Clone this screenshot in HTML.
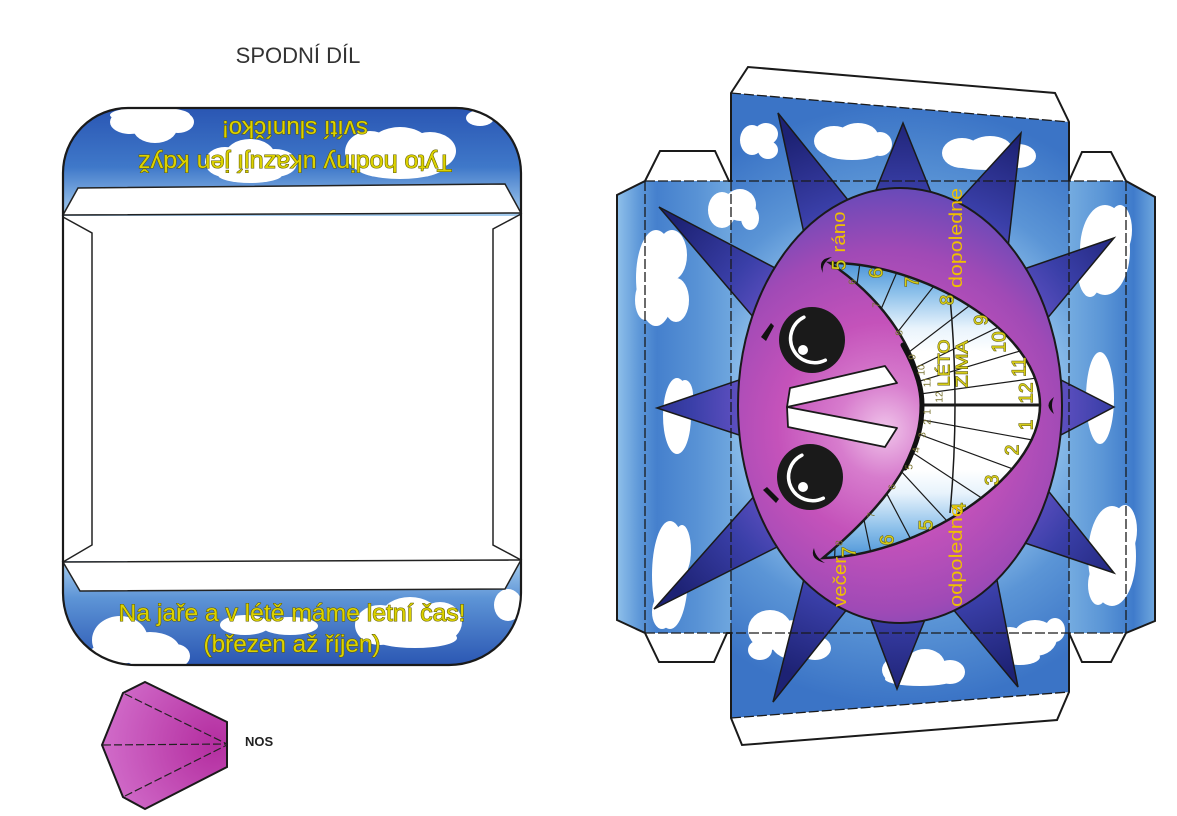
<!DOCTYPE html>
<html><head><meta charset="utf-8">
<style>
html,body{margin:0;padding:0;background:#fff;}
svg{display:block}
.y{fill:#dcd200;stroke:#5e5a00;stroke-width:1.1;paint-order:stroke;}
.on text,.inn text,.lbl text,.lz text{text-anchor:middle;dominant-baseline:central;}
.on text{fill:#d6cc18;stroke:#5a5610;stroke-width:1;paint-order:stroke;font-size:19px;}
.inn text{fill:#7a7430;font-size:10px;}
.lbl text{fill:#efc000;font-size:18px;}
.lz text{fill:#d6cc18;stroke:#5a5610;stroke-width:1;paint-order:stroke;font-size:17px;}
</style></head>
<body>
<svg width="1177" height="816" viewBox="0 0 1177 816" xmlns="http://www.w3.org/2000/svg" font-family="'Liberation Sans', Arial, sans-serif">
<defs>
  <clipPath id="lpc"><path d="M63,173 A65,65 0 0 1 128,108 L456,108 A65,65 0 0 1 521,173 L521,593 A72,72 0 0 1 449,665 L135,665 A72,72 0 0 1 63,593 Z"/></clipPath>
  <clipPath id="rpc">
    <polygon points="617,195 645,181 731,181 731,633 645,633 617,620"/>
    <polygon points="731,93 1069,122 1069,692 731,718"/>
    <polygon points="1069,181 1126,181 1155,197 1155,621 1126,633 1069,633"/>
  </clipPath>
  <clipPath id="mc"><path d="M830,263 C920,262 1040,330 1040,405 C1040,480 915,556 823,558 C880,510 922,460 922,405 C922,355 885,300 830,263 Z"/></clipPath>
  <linearGradient id="tb" gradientUnits="userSpaceOnUse" x1="0" y1="108" x2="0" y2="215">
    <stop offset="0" stop-color="#2a56b3"/><stop offset="0.55" stop-color="#3f78c9"/><stop offset="1" stop-color="#a3cbee"/>
  </linearGradient>
  <linearGradient id="bb" gradientUnits="userSpaceOnUse" x1="0" y1="562" x2="0" y2="665">
    <stop offset="0" stop-color="#a3cbee"/><stop offset="0.35" stop-color="#5d94d6"/><stop offset="1" stop-color="#2b57b3"/>
  </linearGradient>
  <radialGradient id="sc" gradientUnits="userSpaceOnUse" cx="900" cy="405" r="300">
    <stop offset="0.5" stop-color="#94c4ed"/><stop offset="0.72" stop-color="#5b95d6"/><stop offset="1" stop-color="#3b74c6"/>
  </radialGradient>
  <linearGradient id="sl" gradientUnits="userSpaceOnUse" x1="617" y1="0" x2="731" y2="0">
    <stop offset="0" stop-color="#8fc0ea"/><stop offset="0.2" stop-color="#5d97d8"/><stop offset="0.35" stop-color="#4580cd"/><stop offset="0.7" stop-color="#5892d5"/><stop offset="1" stop-color="#6ea6de"/>
  </linearGradient>
  <linearGradient id="sr" gradientUnits="userSpaceOnUse" x1="1069" y1="0" x2="1155" y2="0">
    <stop offset="0" stop-color="#74abe0"/><stop offset="0.4" stop-color="#5a95d6"/><stop offset="0.75" stop-color="#3f7bcb"/><stop offset="1" stop-color="#6fa7de"/>
  </linearGradient>
  <radialGradient id="sp" gradientUnits="userSpaceOnUse" cx="900" cy="405" r="290">
    <stop offset="0.5" stop-color="#6a55c8"/><stop offset="0.72" stop-color="#3a3fa8"/><stop offset="1" stop-color="#1d2274"/>
  </radialGradient>
  <radialGradient id="fc" gradientUnits="userSpaceOnUse" cx="885" cy="430" r="240">
    <stop offset="0" stop-color="#f0c4ea"/><stop offset="0.2" stop-color="#d77ccd"/><stop offset="0.45" stop-color="#c452ba"/><stop offset="0.75" stop-color="#a04ab6"/><stop offset="1" stop-color="#6a4ab8"/>
  </radialGradient>
  <linearGradient id="mg" gradientUnits="userSpaceOnUse" x1="0" y1="263" x2="0" y2="558">
    <stop offset="0" stop-color="#4c94d8"/><stop offset="0.1" stop-color="#8cc0ea"/><stop offset="0.22" stop-color="#e8f3fc"/><stop offset="0.3" stop-color="#ffffff"/><stop offset="0.7" stop-color="#ffffff"/><stop offset="0.78" stop-color="#e8f3fc"/><stop offset="0.9" stop-color="#8cc0ea"/><stop offset="1" stop-color="#4c94d8"/>
  </linearGradient>
  <radialGradient id="ng" gradientUnits="userSpaceOnUse" cx="215" cy="745" r="110">
    <stop offset="0" stop-color="#b42ea0"/><stop offset="1" stop-color="#d06ac8"/>
  </radialGradient>
</defs>

<!-- ===== LEFT PIECE ===== -->
<text x="298" y="63" text-anchor="middle" font-size="22" fill="#333">SPODNÍ DÍL</text>

<path d="M63,173 A65,65 0 0 1 128,108 L456,108 A65,65 0 0 1 521,173 L521,593 A72,72 0 0 1 449,665 L135,665 A72,72 0 0 1 63,593 Z" fill="#fff"/>
<g clip-path="url(#lpc)">
  <rect x="60" y="105" width="465" height="111" fill="url(#tb)"/>
  <rect x="60" y="561" width="465" height="108" fill="url(#bb)"/>
  <g fill="#fff">
    <ellipse cx="130" cy="122" rx="20" ry="12"/><ellipse cx="155" cy="128" rx="22" ry="15"/><ellipse cx="178" cy="122" rx="16" ry="11"/><ellipse cx="150" cy="115" rx="40" ry="8"/>
    <ellipse cx="225" cy="162" rx="20" ry="15"/><ellipse cx="250" cy="156" rx="25" ry="17"/><ellipse cx="275" cy="163" rx="22" ry="14"/><ellipse cx="250" cy="175" rx="32" ry="8"/>
    <ellipse cx="370" cy="152" rx="25" ry="21"/><ellipse cx="400" cy="146" rx="30" ry="19"/><ellipse cx="430" cy="151" rx="26" ry="19"/><ellipse cx="400" cy="166" rx="45" ry="13"/>
    <ellipse cx="480" cy="118" rx="14" ry="8"/>
    <ellipse cx="120" cy="640" rx="28" ry="24"/><ellipse cx="150" cy="650" rx="30" ry="18"/><ellipse cx="175" cy="656" rx="15" ry="12"/><ellipse cx="108" cy="656" rx="20" ry="12"/>
    <ellipse cx="245" cy="625" rx="25" ry="10"/><ellipse cx="290" cy="626" rx="28" ry="9"/>
    <ellipse cx="380" cy="625" rx="25" ry="20"/><ellipse cx="410" cy="615" rx="28" ry="18"/><ellipse cx="440" cy="622" rx="22" ry="20"/><ellipse cx="415" cy="638" rx="42" ry="10"/>
    <ellipse cx="508" cy="605" rx="14" ry="16"/>
  </g>
</g>
<polygon points="63,215 78,188 505,184 521,213" fill="#fff" stroke="#222" stroke-width="1.5"/>
<polygon points="63,562 521,560 505,589 80,591" fill="#fff" stroke="#222" stroke-width="1.5"/>
<polyline points="63,217 92,233 92,545 63,562" fill="none" stroke="#222" stroke-width="1.5"/>
<polyline points="521,214 493,229 493,545 521,560" fill="none" stroke="#222" stroke-width="1.5"/>
<path d="M63,173 A65,65 0 0 1 128,108 L456,108 A65,65 0 0 1 521,173 L521,593 A72,72 0 0 1 449,665 L135,665 A72,72 0 0 1 63,593 Z" fill="none" stroke="#1a1a1a" stroke-width="2.2"/>

<g font-size="24" text-anchor="middle" class="y">
  <text x="295" y="155" transform="rotate(180 295 155)" textLength="314" lengthAdjust="spacingAndGlyphs">Tyto hodiny ukazují jen když</text>
  <text x="295" y="121" transform="rotate(180 295 121)" textLength="146" lengthAdjust="spacingAndGlyphs">svítí sluníčko!</text>
  <text x="292" y="621" textLength="347" lengthAdjust="spacingAndGlyphs">Na jaře a v létě máme letní čas!</text>
  <text x="292" y="652" textLength="177" lengthAdjust="spacingAndGlyphs">(březen až říjen)</text>
</g>

<!-- NOS -->
<polygon points="145,682 227,722 227,767 145,809 123,797 102,745 123,693" fill="url(#ng)" stroke="#1a1a1a" stroke-width="2"/>
<g stroke="#222" stroke-width="1.2" stroke-dasharray="8 3" fill="none">
  <line x1="125" y1="694" x2="227" y2="744"/>
  <line x1="103" y1="745" x2="227" y2="744"/>
  <line x1="125" y1="796" x2="227" y2="745"/>
</g>
<text x="245" y="746" font-size="13" font-weight="bold" fill="#222">NOS</text>

<!-- ===== RIGHT PIECE ===== -->
<polygon points="617,195 645,181 731,181 731,633 645,633 617,620" fill="url(#sl)"/>
<polygon points="731,93 1069,122 1069,692 731,718" fill="url(#sc)"/>
<polygon points="1069,181 1126,181 1155,197 1155,621 1126,633 1069,633" fill="url(#sr)"/>

<g clip-path="url(#rpc)" fill="#fff">
  <ellipse cx="752" cy="140" rx="12" ry="15"/><ellipse cx="766" cy="134" rx="12" ry="11"/><ellipse cx="768" cy="150" rx="10" ry="9"/>
  <ellipse cx="834" cy="141" rx="20" ry="15"/><ellipse cx="858" cy="136" rx="20" ry="13"/><ellipse cx="880" cy="144" rx="12" ry="12"/><ellipse cx="852" cy="152" rx="28" ry="8"/>
  <ellipse cx="962" cy="153" rx="20" ry="15"/><ellipse cx="990" cy="149" rx="22" ry="13"/><ellipse cx="1018" cy="156" rx="18" ry="12"/><ellipse cx="988" cy="163" rx="36" ry="7"/>
  <ellipse cx="722" cy="210" rx="14" ry="18"/><ellipse cx="740" cy="205" rx="16" ry="16"/><ellipse cx="750" cy="218" rx="9" ry="12"/>
  <ellipse cx="656" cy="278" rx="20" ry="48"/><ellipse cx="672" cy="255" rx="15" ry="25"/><ellipse cx="676" cy="300" rx="13" ry="22"/><ellipse cx="645" cy="300" rx="10" ry="20"/>
  <ellipse cx="677" cy="416" rx="14" ry="38"/><ellipse cx="685" cy="395" rx="8" ry="15"/>
  <ellipse cx="670" cy="575" rx="18" ry="54"/><ellipse cx="682" cy="550" rx="9" ry="25"/><ellipse cx="662" cy="612" rx="10" ry="17"/>
  <ellipse cx="770" cy="630" rx="22" ry="20"/><ellipse cx="795" cy="640" rx="25" ry="20"/><ellipse cx="815" cy="648" rx="16" ry="12"/><ellipse cx="760" cy="650" rx="12" ry="10"/>
  <ellipse cx="900" cy="670" rx="18" ry="14"/><ellipse cx="925" cy="665" rx="20" ry="16"/><ellipse cx="950" cy="672" rx="15" ry="12"/><ellipse cx="920" cy="679" rx="35" ry="7"/>
  <ellipse cx="1010" cy="645" rx="18" ry="18"/><ellipse cx="1035" cy="638" rx="22" ry="18"/><ellipse cx="1055" cy="630" rx="10" ry="12"/><ellipse cx="1020" cy="657" rx="20" ry="8"/>
  <ellipse cx="1105" cy="250" rx="25" ry="45"/><ellipse cx="1090" cy="272" rx="12" ry="25"/><ellipse cx="1120" cy="230" rx="12" ry="25"/>
  <ellipse cx="1100" cy="398" rx="14" ry="46"/>
  <ellipse cx="1112" cy="556" rx="24" ry="50"/><ellipse cx="1125" cy="530" rx="12" ry="25"/><ellipse cx="1098" cy="585" rx="10" ry="20"/>
</g>

<!-- spikes -->
<g fill="url(#sp)" stroke="#1a1a1a" stroke-width="1.5" stroke-linejoin="miter">
  <polygon points="778,113 805,238 852,205"/>
  <polygon points="903,123 872,200 934,200"/>
  <polygon points="1021,133 955,205 1008,248"/>
  <polygon points="659,207 777,269 754,318"/>
  <polygon points="1114,238 1024,269 1046,320"/>
  <polygon points="657,408 745,378 745,437"/>
  <polygon points="1114,407 1057,378 1057,437"/>
  <polygon points="654,609 756,494 781,545"/>
  <polygon points="1114,573 1046,488 1022,542"/>
  <polygon points="773,702 805,575 848,608"/>
  <polygon points="897,689 868,612 928,612"/>
  <polygon points="1018,687 952,608 996,575"/>
</g>

<!-- face -->
<ellipse cx="900" cy="405.5" rx="162" ry="217.5" fill="url(#fc)" stroke="#1a1a1a" stroke-width="2"/>

<!-- eyebrows -->
<polygon points="761,337 771,323 774,326 766,341" fill="#111"/>
<polygon points="763,490 767,487 779,499 776,503" fill="#111"/>

<!-- eyes -->
<circle cx="812" cy="340" r="33" fill="#1a1a1a"/>
<path d="M803.9,317.2 A24,24 0 1 0 825.3,360.2" fill="none" stroke="#fff" stroke-width="3.5" stroke-linecap="round"/>
<circle cx="803" cy="350" r="5" fill="#fff"/>
<circle cx="810" cy="477" r="33" fill="#1a1a1a"/>
<path d="M801.9,455.2 A24,24 0 1 0 823.3,498.2" fill="none" stroke="#fff" stroke-width="3.5" stroke-linecap="round"/>
<circle cx="803" cy="487" r="5" fill="#fff"/>

<!-- nose -->
<g fill="#fff" stroke="#1a1a1a" stroke-width="1.8" stroke-linejoin="round">
  <polygon points="790,388 885,366 897,383 787,407"/>
  <polygon points="787,407 897,428 885,447 788,427"/>
</g>

<!-- mouth -->
<path d="M830,263 C920,262 1040,330 1040,405 C1040,480 915,556 823,558 C880,510 922,460 922,405 C922,355 885,300 830,263 Z" fill="url(#mg)"/>
<g clip-path="url(#mc)" stroke="#1a1a1a" stroke-width="1.2" fill="none">
  <line x1="840" y1="405" x2="808.3" y2="147"/>
  <line x1="840" y1="405" x2="876.2" y2="147.5"/>
  <line x1="840" y1="405" x2="942.4" y2="166"/>
  <line x1="840" y1="405" x2="1001.1" y2="200.9"/>
  <line x1="840" y1="405" x2="1046.3" y2="246.7"/>
  <line x1="840" y1="405" x2="1073.3" y2="290.2"/>
  <line x1="840" y1="405" x2="1089" y2="330.3"/>
  <line x1="840" y1="405" x2="1097.6" y2="369.7"/>
  <line x1="840" y1="405" x2="1100" y2="405" stroke-width="3"/>
  <line x1="840" y1="405" x2="1095.8" y2="451.5"/>
  <line x1="840" y1="405" x2="1083.9" y2="495.2"/>
  <line x1="840" y1="405" x2="1057.3" y2="547.7"/>
  <line x1="840" y1="405" x2="1016.3" y2="596.1"/>
  <line x1="840" y1="405" x2="961.3" y2="635"/>
  <line x1="840" y1="405" x2="893.2" y2="659.5"/>
  <line x1="840" y1="405" x2="830.9" y2="664.8"/>
  <path d="M950,297 Q960,405 950,513" stroke-width="1.5"/>
</g>
<path d="M922,405 C922,355 885,300 830,263 C920,262 1040,330 1040,405 C1040,480 915,556 823,558 C880,510 922,460 922,405" fill="none" stroke="#1a1a1a" stroke-width="2.5"/>
<path d="M903,345 C918,372 922,390 922,405 C922,425 918,442 905,468" fill="none" stroke="#111" stroke-width="5" stroke-linecap="round"/>

<!-- mouth corner dimples & mark -->
<path d="M832,257 Q816,259 823,273 Q821,263 832,257 Z" fill="#111"/>
<path d="M825,563 Q809,559 814,548 Q815,557 825,563 Z" fill="#111"/>
<path d="M1054,397 Q1043,405 1054,414 Q1050,405 1054,397 Z" fill="#111"/>

<!-- outer numbers -->
<g class="on">
  <text transform="translate(840,265) rotate(-90)">5</text>
  <text transform="translate(877,273) rotate(-90)">6</text>
  <text transform="translate(913,282) rotate(-90)">7</text>
  <text transform="translate(948,300) rotate(-90)">8</text>
  <text transform="translate(982,320) rotate(-90)">9</text>
  <text transform="translate(1000,342) rotate(-90)">10</text>
  <text transform="translate(1020,367) rotate(-90)">11</text>
  <text transform="translate(1027,393) rotate(-90)">12</text>
  <text transform="translate(1027,425) rotate(-90)">1</text>
  <text transform="translate(1013,450) rotate(-90)">2</text>
  <text transform="translate(993,480) rotate(-90)">3</text>
  <text transform="translate(960,508) rotate(-90)">4</text>
  <text transform="translate(927,525) rotate(-90)">5</text>
  <text transform="translate(888,540) rotate(-90)">6</text>
  <text transform="translate(850,552) rotate(-90)">7</text>
</g>

<!-- inner numbers -->
<g class="inn">
  <text transform="translate(853,282) rotate(-90)" font-size="9">6</text>
  <text transform="translate(877,305) rotate(-90)" font-size="9">7</text>
  <text transform="translate(900,333) rotate(-90)">8</text>
  <text transform="translate(913,357) rotate(-90)">9</text>
  <text transform="translate(922,370) rotate(-90)">10</text>
  <text transform="translate(928,382) rotate(-90)">11</text>
  <text transform="translate(940,397) rotate(-90)" font-size="12">12</text>
  <text transform="translate(928,412) rotate(-90)">1</text>
  <text transform="translate(928,422) rotate(-90)">2</text>
  <text transform="translate(923,435) rotate(-90)">3</text>
  <text transform="translate(917,450) rotate(-90)">4</text>
  <text transform="translate(910,467) rotate(-90)">5</text>
  <text transform="translate(893,487) rotate(-90)">6</text>
  <text transform="translate(872,515) rotate(-90)">7</text>
  <text transform="translate(840,543) rotate(-90)">8</text>
</g>

<g class="lz">
  <text transform="translate(944,363) rotate(-90)" textLength="47" lengthAdjust="spacingAndGlyphs">LÉTO</text>
  <text transform="translate(962,364) rotate(-90)" textLength="47" lengthAdjust="spacingAndGlyphs">ZIMA</text>
</g>

<g class="lbl">
  <text transform="translate(839,232) rotate(-90)" textLength="41" lengthAdjust="spacingAndGlyphs">ráno</text>
  <text transform="translate(956,238) rotate(-90)" textLength="100" lengthAdjust="spacingAndGlyphs">dopoledne</text>
  <text transform="translate(840,582) rotate(-90)" textLength="50" lengthAdjust="spacingAndGlyphs">večer</text>
  <text transform="translate(956,556) rotate(-90)" textLength="102" lengthAdjust="spacingAndGlyphs">odpoledne</text>
</g>

<!-- fold lines -->
<g stroke="#1a1a1a" stroke-width="1.3" stroke-dasharray="10 3" fill="none">
  <line x1="645" y1="181" x2="1126" y2="181"/>
  <line x1="645" y1="633" x2="1126" y2="633"/>
  <line x1="645" y1="181" x2="645" y2="633"/>
  <line x1="731" y1="181" x2="731" y2="633"/>
  <line x1="1069" y1="181" x2="1069" y2="633"/>
  <line x1="1126" y1="181" x2="1126" y2="633"/>
  <line x1="731" y1="93" x2="1069" y2="122"/>
  <line x1="731" y1="718" x2="1069" y2="692"/>
</g>

<!-- outline of right piece -->
<path d="M731,93 L748,67 L1055,93 L1069,122 L1069,181 L1082,152 L1111,152 L1126,181 L1155,197 L1155,621 L1126,633 L1111,662 L1082,662 L1069,633 L1069,692 L1057,720 L742,745 L731,718 L731,633 L727,633 L714,662 L659,662 L645,633 L617,620 L617,195 L645,181 L660,151 L715,151 L729,181 L731,181 Z" fill="none" stroke="#1a1a1a" stroke-width="2" stroke-linejoin="miter"/>
</svg>
</body></html>
